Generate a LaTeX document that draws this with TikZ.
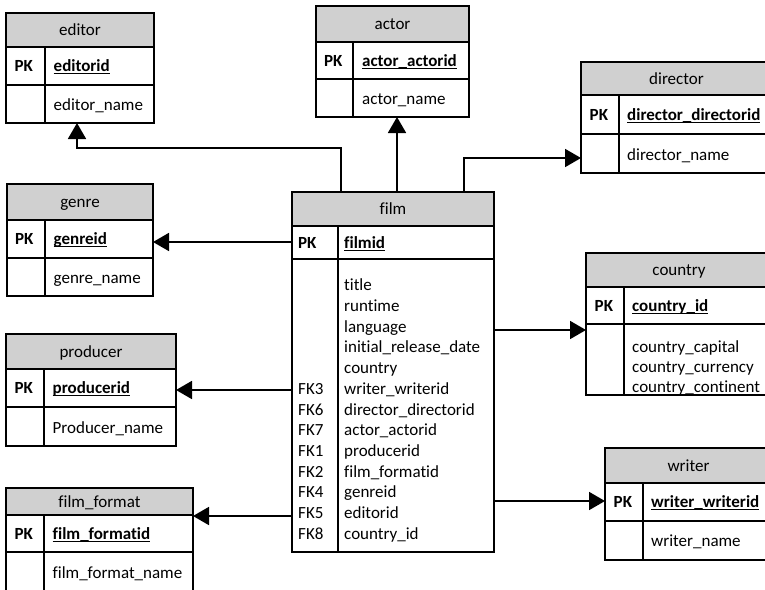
\documentclass[tikz,border=0pt]{standalone}
\usepackage{fontspec}
\setmainfont{Carlito}[Ligatures=NoCommon]
\usetikzlibrary{arrows.meta}
\definecolor{hdrgray}{RGB}{208,208,208}
\newcommand\pkul[1]{\underline{\smash{#1}}}
\tikzset{
  tblbox/.style={draw, line width=1.2pt, inner sep=0pt, outer sep=0pt, anchor=north west},
  tblline/.style={line width=1.2pt},
  txt/.style={inner sep=0pt, anchor=mid west, yshift=-3.5pt, font=\fontsize{17}{20.7}\selectfont},
  ctxt/.style={inner sep=0pt, anchor=mid, yshift=-3.5pt, font=\fontsize{17}{20.7}\selectfont},
  pktxt/.style={txt, font=\fontsize{17}{20.7}\selectfont\bfseries},
  conn/.style={line width=1.8pt, -{Triangle[length=16pt,width=18pt]}},
}
% #1 name, #2 x1, #3 ytop, #4 x2, #5 yhead, #6 ypk, #7 ybottom, #8 xdiv, #9 title
\newcommand\ertable[9]{%
  \fill[hdrgray] (#2,#3) rectangle (#4,#5);
  \node[tblbox, minimum width={(#4-#2)*1pt}, minimum height={(#7-#3)*1pt}] (#1) at (#2,#3) {};
  \draw[tblline] (#2,#5) -- (#4,#5) (#2,#6) -- (#4,#6) (#8,#5) -- (#8,#7);
  \node[ctxt] (#1-title) at ({(#2+#4)/2},{(#3+#5)/2}) {#9};
}
\begin{document}
\begin{tikzpicture}[x=1pt,y=-1pt]
\useasboundingbox (0,0) rectangle (765,589);
\clip (0,0) rectangle (765,589);
\fill[white] (0,0) rectangle (765,589);

% editor
\ertable{editor}{6}{13}{154}{47}{85}{123}{45}{editor}
\node[pktxt] (editor-pk) at (14.5,66) {PK};
\node[pktxt] (editor-key) at (53.5,66) {\pkul{editorid}};
\node[txt] (editor-name) at (53.5,105) {editor\_name};

% actor
\ertable{actor}{316}{6}{469}{42}{79}{117}{353}{actor}
\node[pktxt] (actor-pk) at (324,60.5) {PK};
\node[pktxt] (actor-key) at (362,60.5) {\pkul{actor\_actorid}};
\node[txt] (actor-name) at (362,99) {actor\_name};

% director
\ertable{director}{581}{62}{772}{95}{134}{173}{619}{director}
\node[pktxt] (director-pk) at (589.5,114.5) {PK};
\node[pktxt] (director-key) at (627,114.5) {\pkul{director\_directorid}};
\node[txt] (director-name) at (627,155) {director\_name};

% genre
\ertable{genre}{7}{184}{153}{220}{258}{296}{45}{genre}
\node[pktxt] (genre-pk) at (15,239) {PK};
\node[pktxt] (genre-key) at (53.5,239) {\pkul{genreid}};
\node[txt] (genre-name) at (53.5,278) {genre\_name};

% film
\ertable{film}{292}{192}{494}{226}{259}{552}{338}{film}
\node[pktxt] (film-pk) at (298,242.5) {PK};
\node[pktxt] (film-key) at (344,242.5) {\pkul{filmid}};
\foreach \t [count=\i] in {title,runtime,language,initial\_release\_date,country,
  writer\_writerid,director\_directorid,actor\_actorid,producerid,
  film\_formatid,genreid,editorid,country\_id}
  \node[txt] (film-f\i) at (344,{285+(\i-1)*20.7}) {\t};
\foreach \k/\i in {FK3/6,FK6/7,FK7/8,FK1/9,FK2/10,FK4/11,FK5/12,FK8/13}
  \node[txt] (film-k\i) at (298,{285+(\i-1)*20.7}) {\k};

% country
\ertable{country}{586}{253}{772}{287}{324}{395}{624}{country}
\node[pktxt] (country-pk) at (594.5,305.5) {PK};
\node[pktxt] (country-key) at (632,305.5) {\pkul{country\_id}};
\node[txt] (country-f1) at (632,347) {country\_capital};
\node[txt] (country-f2) at (632,367) {country\_currency};
\node[txt] (country-f3) at (632,387) {country\_continent};

% producer
\ertable{producer}{6}{334}{176}{369}{407}{446}{44}{producer}
\node[pktxt] (producer-pk) at (14.5,388) {PK};
\node[pktxt] (producer-key) at (52.5,388) {\pkul{producerid}};
\node[txt] (producer-name) at (52.5,428) {Producer\_name};

% film_format
\ertable{filmformat}{6}{488}{193}{515}{552}{600}{44}{film\_format}
\node[pktxt] (filmformat-pk) at (14.5,533.5) {PK};
\node[pktxt] (filmformat-key) at (52.5,533.5) {\pkul{film\_formatid}};
\node[txt] (filmformat-name) at (52.5,573) {film\_format\_name};

% writer
\ertable{writer}{605}{448}{772}{483}{521}{560}{643}{writer}
\node[pktxt] (writer-pk) at (613.5,502) {PK};
\node[pktxt] (writer-key) at (651,502) {\pkul{writer\_writerid}};
\node[txt] (writer-name) at (651,541) {writer\_name};

% connectors
\draw[conn] (film.north -| 341,0) -- (341,148) -- (77,148) -- (editor.south -| 77,0);
\draw[conn] (film.north -| 397,0) -- (actor.south -| 397,0);
\draw[conn] (film.north -| 464,0) |- (director.west |- 0,158);
\draw[conn] (film.west |- 0,242) -- (genre.east |- 0,242);
\draw[conn] (film.west |- 0,390) -- (producer.east |- 0,390);
\draw[conn] (film.west |- 0,516) -- (filmformat.east |- 0,516);
\draw[conn] (film.east |- 0,330) -- (country.west |- 0,330);
\draw[conn] (film.east |- 0,501) -- (writer.west |- 0,501);
\end{tikzpicture}
\end{document}
